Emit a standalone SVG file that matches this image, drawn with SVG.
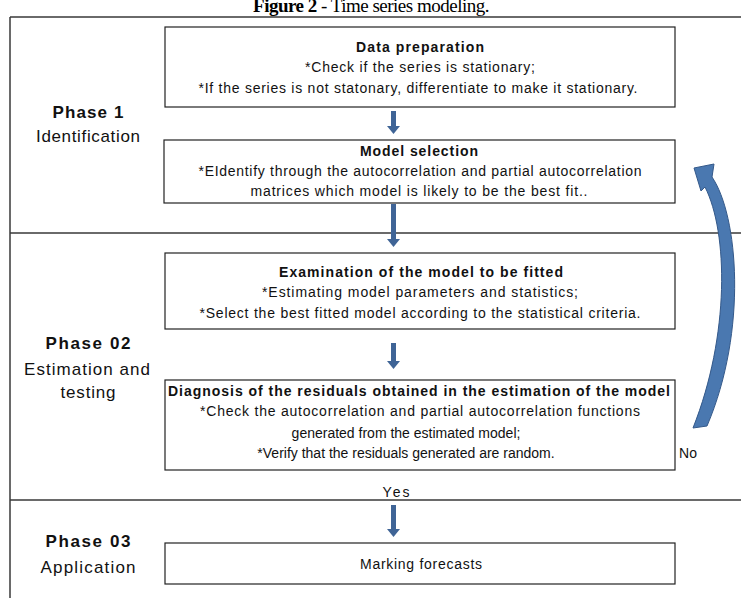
<svg xmlns="http://www.w3.org/2000/svg" width="741" height="598" viewBox="0 0 741 598">
<style>
.frame{stroke:#3a3a3a;stroke-width:1.5;fill:none}
.box{fill:#fff;stroke:#222;stroke-width:1.2}
.t{font-family:"Liberation Sans",Arial,sans-serif;font-size:14px;fill:#111;text-anchor:middle}
.b{font-weight:bold}
.ph{font-family:"Liberation Sans",Arial,sans-serif;font-size:17px;fill:#111;text-anchor:middle}
.arr{fill:#3f6496}
</style>
<rect width="741" height="598" fill="#fff"/>
<text x="371" y="12" text-anchor="middle" font-family="Liberation Serif,Times New Roman,serif" font-size="19" letter-spacing="-0.5" fill="#000"><tspan font-weight="bold">Figure 2</tspan> - Time series modeling.</text>
<g id="frame">
<path class="frame" d="M10,17H741M10,17V598M10,233H741M10,500H741"/>
</g>
<g id="phase1"><text class="ph b" x="88" y="118" textLength="71" lengthAdjust="spacing">Phase 1</text><text class="ph" x="88" y="142" textLength="104" lengthAdjust="spacing">Identification</text></g>
<g id="phase2"><text class="ph b" x="88" y="349" textLength="85" lengthAdjust="spacing">Phase 02</text><text class="ph" x="87" y="375" textLength="126" lengthAdjust="spacing">Estimation and</text><text class="ph" x="88" y="398" textLength="55" lengthAdjust="spacing">testing</text></g>
<g id="phase3"><text class="ph b" x="88" y="547" textLength="85" lengthAdjust="spacing">Phase 03</text><text class="ph" x="88" y="573" textLength="95" lengthAdjust="spacing">Application</text></g>
<g id="n1"><rect class="box" x="165" y="27" width="510" height="80"/>
<text class="t b" x="420" y="52" textLength="128" lengthAdjust="spacing">Data preparation</text>
<text class="t" x="420" y="72" textLength="230" lengthAdjust="spacing">*Check if the series is stationary;</text>
<text class="t" x="418" y="93" textLength="439" lengthAdjust="spacing">*If the series is not statonary, differentiate to make it stationary.</text></g>
<g id="n2"><rect class="box" x="164" y="140" width="511" height="63"/>
<text class="t b" x="419" y="156" textLength="118" lengthAdjust="spacing">Model selection</text>
<text class="t" x="420" y="176" textLength="443" lengthAdjust="spacing">*EIdentify through the autocorrelation and partial autocorrelation</text>
<text class="t" x="419" y="196" textLength="337" lengthAdjust="spacing">matrices which model is likely to be the best fit..</text></g>
<g id="n3"><rect class="box" x="165" y="253" width="510" height="76"/>
<text class="t b" x="421" y="277" textLength="284" lengthAdjust="spacing">Examination of the model to be fitted</text>
<text class="t" x="420" y="297" textLength="316" lengthAdjust="spacing">*Estimating model parameters and statistics;</text>
<text class="t" x="420" y="318" textLength="441" lengthAdjust="spacing">*Select the best fitted model according to the statistical criteria.</text></g>
<g id="n4"><rect class="box" x="165" y="380" width="510" height="90"/>
<text class="t b" x="419" y="396" textLength="502" lengthAdjust="spacing">Diagnosis of the residuals obtained in the estimation of the model</text>
<text class="t" x="420" y="416" textLength="440" lengthAdjust="spacing">*Check the autocorrelation and partial autocorrelation functions</text>
<text class="t" x="406" y="438">generated from the estimated model;</text>
<text class="t" x="406" y="458">*Verify that the residuals generated are random.</text></g>
<g id="n5"><rect class="box" x="165" y="543" width="510" height="41"/>
<text class="t" x="421" y="569" textLength="122" lengthAdjust="spacing">Marking forecasts</text></g>
<g id="connectors">
<path class="arr" d="M391,111h5v15h4l-6.5,8l-6.5,-8h4z"/>
<path class="arr" d="M391,204h5v35h4l-6.5,8l-6.5,-8h4z"/>
<path class="arr" d="M391,343h5v18h4l-6.5,8l-6.5,-8h4z"/>
<path class="arr" d="M391,505h5v24h4l-6.5,8l-6.5,-8h4z"/>
<path d="M694,168 L714,164 L712,177 C738,215 748,330 707,426 L693,428 C730,335 728,232 705,187 L701,191 Z" fill="#4a78b0" stroke="#34598a" stroke-width="1"/>
<text class="t" x="396" y="497" textLength="27" lengthAdjust="spacing">Yes</text>
<text class="t" x="688" y="458">No</text>
</g>
</svg>
